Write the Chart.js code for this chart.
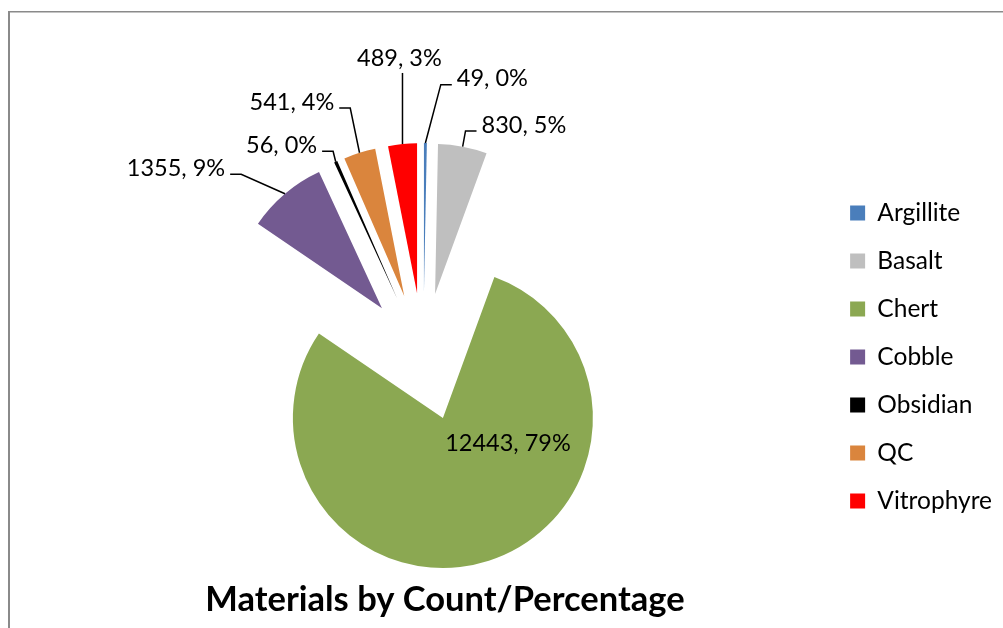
<!DOCTYPE html>
<html>
<head>
<meta charset="utf-8">
<title>Materials by Count/Percentage</title>
<script src="https://cdn.jsdelivr.net/npm/chart.js@4.4.1/dist/chart.umd.min.js"></script>
<style>
  html, body { margin: 0; padding: 0; background: #fff; }
  #wrap { width: 1003px; height: 628px; }
</style>
</head>
<body>
<div id="wrap"><canvas id="materialsChart" width="1003" height="628"></canvas></div>
<script>
const materials = ['Argillite', 'Basalt', 'Chert', 'Cobble', 'Obsidian', 'QC', 'Vitrophyre'];
const counts = [49, 830, 12443, 1355, 56, 541, 489];
const sliceColors = ['#4A7EBB', '#BFBFBF', '#8BA852', '#735A91', '#000000', '#DA853D', '#FF0000'];
const chartTitle = 'Materials by Count/Percentage';

// whole-number percentages that still add up to 100 (largest remainder)
function wholePercents(values) {
  const total = values.reduce((a, b) => a + b, 0);
  const raw = values.map(v => v / total * 100);
  const out = raw.map(Math.floor);
  const left = 100 - out.reduce((a, b) => a + b, 0);
  raw.map((r, i) => [r - Math.floor(r), i])
    .sort((a, b) => b[0] - a[0])
    .slice(0, left)
    .forEach(([, i]) => out[i]++);
  return out;
}

// pull every slice out from the centre along its own bisector
const explode = {
  id: 'explode',
  beforeDatasetDraw(chart, args, opts) {
    const ctx = chart.ctx;
    args.meta.data.forEach(arc => {
      const mid = (arc.startAngle + arc.endAngle) / 2;
      ctx.save();
      ctx.translate(Math.cos(mid) * opts.distance, Math.sin(mid) * opts.distance);
      arc.draw(ctx);
      ctx.restore();
    });
    return false;
  }
};

// "value, pct%" labels with leader lines back to the slice edge
const sliceLabels = {
  id: 'sliceLabels',
  afterDatasetsDraw(chart, args, opts) {
    const ctx = chart.ctx;
    const meta = chart.getDatasetMeta(0);
    const values = chart.data.datasets[0].data;
    const pct = wholePercents(values);
    const push = chart.options.plugins.explode.distance;
    ctx.save();
    ctx.font = opts.font;
    ctx.fillStyle = opts.color;
    ctx.strokeStyle = opts.color;
    ctx.lineWidth = opts.lineWidth;
    ctx.textAlign = 'center';
    ctx.textBaseline = 'middle';
    meta.data.forEach((arc, i) => {
      const mid = (arc.startAngle + arc.endAngle) / 2;
      const cx = arc.x + Math.cos(mid) * push;
      const cy = arc.y + Math.sin(mid) * push;
      const [deg, dist] = opts.placement[i];
      const a = deg * Math.PI / 180;
      const lx = cx + Math.sin(a) * dist;
      const ly = cy - Math.cos(a) * dist;
      const text = values[i] + ', ' + pct[i] + '%';
      const half = ctx.measureText(text).width / 2;
      ctx.fillText(text, lx, ly);
      if (dist < arc.outerRadius) return;
      const ax = cx + Math.cos(mid) * arc.outerRadius;
      const ay = cy + Math.sin(mid) * arc.outerRadius;
      ctx.beginPath();
      ctx.moveTo(ax, ay);
      if (Math.abs(ax - lx) < half) {
        ctx.lineTo(ax, ly + 15);
      } else {
        const side = ax > lx ? 1 : -1;
        const edge = lx + side * (half + 5);
        ctx.lineTo(edge + side * 11, ly + 6);
        ctx.lineTo(edge, ly + 6);
      }
      ctx.stroke();
    });
    ctx.restore();
  }
};

// outer frame line and the title under the pie
const frameAndTitle = {
  id: 'frameAndTitle',
  beforeDraw(chart) {
    const ctx = chart.ctx;
    ctx.save();
    ctx.fillStyle = '#8a8a8a';
    ctx.fillRect(8, 11, 2, chart.height - 11);
    ctx.fillRect(8, 11, chart.width - 8, 1.5);
    ctx.restore();
  },
  afterDraw(chart, args, opts) {
    const ctx = chart.ctx;
    ctx.save();
    ctx.font = opts.font;
    ctx.fillStyle = '#000';
    ctx.textAlign = 'center';
    ctx.textBaseline = 'middle';
    ctx.fillText(opts.text, opts.x, opts.y);
    ctx.restore();
  }
};

new Chart(document.getElementById('materialsChart'), {
  type: 'pie',
  data: {
    labels: materials,
    datasets: [{
      data: counts,
      backgroundColor: sliceColors,
      borderWidth: 0,
      radius: 150,
      clip: false
    }]
  },
  options: {
    responsive: false,
    animation: false,
    events: [],
    layout: { padding: { left: 20, right: 1, top: 86, bottom: 0 } },
    plugins: {
      explode: { distance: 64 },
      sliceLabels: {
        font: '23.5px Lato',
        color: '#000',
        lineWidth: 1.5,
        placement: [[17.7, 225], [27.7, 191], [111.6, 70], [304.2, 249], [323, 192], [329.9, 224], [355.7, 236]]
      },
      frameAndTitle: { text: chartTitle, font: 'bold 34.5px Lato', x: 445, y: 600 },
      title: { display: false },
      tooltip: { enabled: false },
      legend: {
        position: 'right',
        labels: {
          font: { family: 'Lato', size: 24.5 },
          color: '#000',
          boxWidth: 15,
          boxHeight: 15,
          padding: 23.5
        }
      }
    }
  },
  plugins: [explode, sliceLabels, frameAndTitle]
});
</script>
</body>
</html>
